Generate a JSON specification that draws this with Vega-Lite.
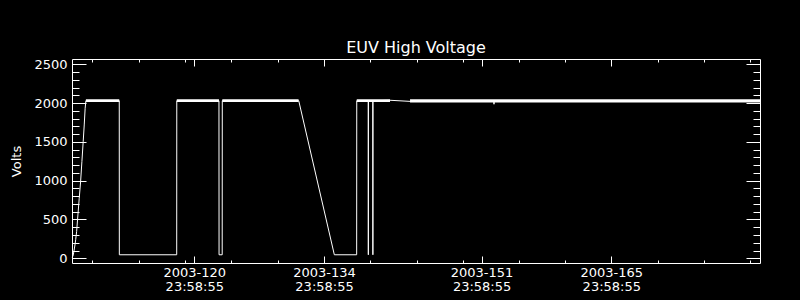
{
  "$schema": "https://vega.github.io/schema/vega-lite/v6.json",
  "width": 688,
  "height": 204,
  "autosize": "none",
  "padding": {"left": 72, "top": 59, "right": 40, "bottom": 37},
  "background": "black",
  "title": {"text": "EUV High Voltage", "color": "white", "font": "DejaVu Sans", "fontSize": 16, "fontWeight": "normal", "anchor": "middle", "frame": "group", "offset": 2},
  "config": {"view": {"stroke": null}},
  "datasets": {
    "line": [
      {"doy": 107.83, "v": 10},
      {"doy": 107.94, "v": 43},
      {"doy": 108.05, "v": 120},
      {"doy": 108.12, "v": 171},
      {"doy": 108.2, "v": 240},
      {"doy": 108.3, "v": 343},
      {"doy": 108.44, "v": 558},
      {"doy": 108.58, "v": 773},
      {"doy": 108.73, "v": 987},
      {"doy": 108.87, "v": 1245},
      {"doy": 109.01, "v": 1503},
      {"doy": 109.12, "v": 1718},
      {"doy": 109.22, "v": 1933},
      {"doy": 109.3, "v": 2030},
      {"doy": 112.9, "v": 2030},
      {"doy": 112.91, "v": 45},
      {"doy": 119.1, "v": 45},
      {"doy": 119.11, "v": 2030},
      {"doy": 123.66, "v": 2030},
      {"doy": 123.67, "v": 45},
      {"doy": 124.01, "v": 45},
      {"doy": 124.02, "v": 2030},
      {"doy": 132.27, "v": 2030},
      {"doy": 136.11, "v": 45},
      {"doy": 138.52, "v": 45},
      {"doy": 138.53, "v": 2030},
      {"doy": 139.77, "v": 2030},
      {"doy": 139.78, "v": 45},
      {"doy": 139.79, "v": 2030},
      {"doy": 140.26, "v": 2030},
      {"doy": 140.27, "v": 45},
      {"doy": 140.28, "v": 2030},
      {"doy": 142.12, "v": 2036},
      {"doy": 144.28, "v": 2022},
      {"doy": 153.33, "v": 2030},
      {"doy": 153.34, "v": 1985},
      {"doy": 153.35, "v": 2030},
      {"doy": 182.04, "v": 2030}
    ],
    "band": [
      {"seg": "A", "doy": 109.3, "lo": 2015, "hi": 2050},
      {"seg": "A", "doy": 112.9, "lo": 2015, "hi": 2050},
      {"seg": "B", "doy": 119.11, "lo": 2015, "hi": 2050},
      {"seg": "B", "doy": 123.66, "lo": 2015, "hi": 2050},
      {"seg": "C", "doy": 124.02, "lo": 2015, "hi": 2050},
      {"seg": "C", "doy": 132.25, "lo": 2015, "hi": 2050},
      {"seg": "D", "doy": 138.53, "lo": 2015, "hi": 2050},
      {"seg": "D", "doy": 142.12, "lo": 2015, "hi": 2050},
      {"seg": "E", "doy": 144.28, "lo": 2008, "hi": 2050},
      {"seg": "E", "doy": 182.05, "lo": 2008, "hi": 2050}
    ]
  },
  "layer": [
    {
      "data": {"name": "band"},
      "mark": {"type": "area", "color": "white", "opacity": 1},
      "encoding": {
        "x": {"field": "doy", "type": "quantitative",
          "scale": {"domain": [107.801, 182.046], "nice": false, "zero": false},
          "axis": {"orient": "top", "values": [110, 115, 120, 120.99925, 125, 130, 134.99925, 135, 140, 145, 150, 151.99925, 156, 161, 165.99925, 166, 171, 176, 181],
            "labels": false, "title": null, "grid": false,
            "domainColor": "white", "domainWidth": 1, "tickColor": "white", "tickWidth": 1,
            "tickSize": {"condition": {"test": "datum.value % 1 > 0.5", "value": -7}, "value": -3}}},
        "y": {"field": "lo", "type": "quantitative",
          "scale": {"domain": [-61, 2568], "nice": false, "zero": false},
          "axis": {"orient": "right", "values": [0,100,200,300,400,500,600,700,800,900,1000,1100,1200,1300,1400,1500,1600,1700,1800,1900,2000,2100,2200,2300,2400,2500],
            "labels": false, "title": null, "grid": false,
            "domainColor": "white", "domainWidth": 1, "tickColor": "white", "tickWidth": 1,
            "tickSize": {"condition": {"test": "datum.value % 500 == 0", "value": -14}, "value": -7}}},
        "y2": {"field": "hi"},
        "detail": {"field": "seg"}
      }
    },
    {
      "data": {"name": "line"},
      "mark": {"type": "line", "color": "white", "strokeWidth": 1},
      "encoding": {
        "x": {"field": "doy", "type": "quantitative",
          "scale": {"domain": [107.801, 182.046], "nice": false, "zero": false},
          "axis": {"orient": "bottom", "values": [110, 115, 120, 120.99925, 125, 130, 134.99925, 135, 140, 145, 150, 151.99925, 156, 161, 165.99925, 166, 171, 176, 181],
            "labelExpr": "datum.value % 1 > 0.5 ? ['2003-' + format(floor(datum.value), 'd'), '23:58:55'] : ''",
            "labelColor": "white", "labelFont": "DejaVu Sans", "labelFontSize": 13, "labelLineHeight": 14,
            "labelPadding": 10, "labelOverlap": false, "labelFlush": false, "labelBound": false, "labelBaseline": "top",
            "title": null, "grid": false,
            "domainColor": "white", "domainWidth": 1, "tickColor": "white", "tickWidth": 1,
            "tickSize": {"condition": {"test": "datum.value % 1 > 0.5", "value": -7}, "value": -3}}},
        "y": {"field": "v", "type": "quantitative",
          "scale": {"domain": [-61, 2568], "nice": false, "zero": false},
          "axis": {"orient": "left", "values": [0,100,200,300,400,500,600,700,800,900,1000,1100,1200,1300,1400,1500,1600,1700,1800,1900,2000,2100,2200,2300,2400,2500],
            "labelExpr": "datum.value % 500 == 0 ? format(datum.value, 'd') : ''",
            "labelColor": "white", "labelFont": "DejaVu Sans", "labelFontSize": 13, "labelPadding": 19,
            "labelOverlap": false, "labelFlush": false, "labelBound": false,
            "title": "Volts", "titleColor": "white", "titleFont": "DejaVu Sans", "titleFontSize": 13, "titleFontWeight": "normal", "titlePadding": 10,
            "grid": false,
            "domainColor": "white", "domainWidth": 1, "tickColor": "white", "tickWidth": 1,
            "tickSize": {"condition": {"test": "datum.value % 500 == 0", "value": -14}, "value": -7}}}
      }
    }
  ],
  "resolve": {"axis": {"x": "independent", "y": "independent"}}
}
